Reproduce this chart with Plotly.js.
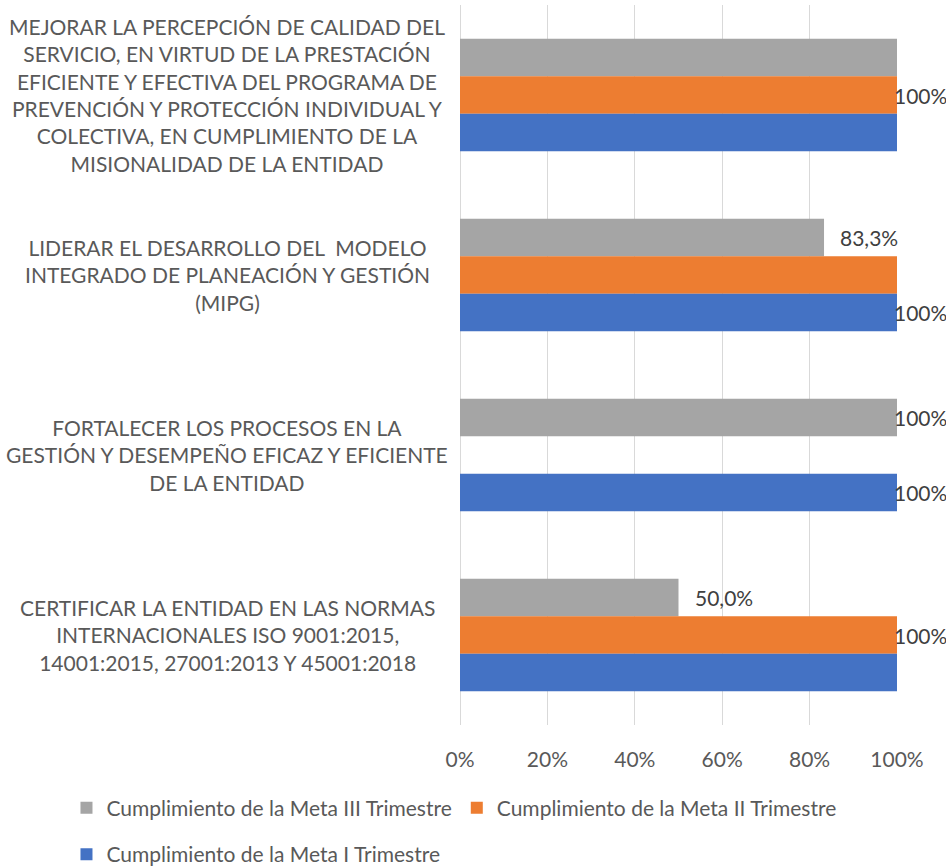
<!DOCTYPE html>
<html>
<head>
<meta charset="utf-8">
<script src="https://cdn.plot.ly/plotly-3.0.1.min.js"></script>
<style>
  html, body { margin: 0; padding: 0; background: #ffffff; }
  #chart { width: 946px; height: 866px; }
</style>
</head>
<body>
<div id="chart"></div>
<script>
// ---- data ----
const categories = [
  "MEJORAR LA PERCEPCIÓN DE CALIDAD DEL<br>SERVICIO, EN VIRTUD DE LA PRESTACIÓN<br>EFICIENTE Y EFECTIVA DEL PROGRAMA DE<br>PREVENCIÓN Y PROTECCIÓN INDIVIDUAL Y<br>COLECTIVA, EN CUMPLIMIENTO DE LA<br>MISIONALIDAD DE LA ENTIDAD",
  "LIDERAR EL DESARROLLO DEL  MODELO<br>INTEGRADO DE PLANEACIÓN Y GESTIÓN<br>(MIPG)",
  "FORTALECER LOS PROCESOS EN LA<br>GESTIÓN Y DESEMPEÑO EFICAZ Y EFICIENTE<br>DE LA ENTIDAD",
  "CERTIFICAR LA ENTIDAD EN LAS NORMAS<br>INTERNACIONALES ISO 9001:2015,<br>14001:2015, 27001:2013 Y 45001:2018"
];
const seriesNames = [
  "Cumplimiento de la Meta III Trimestre",
  "Cumplimiento de la Meta II Trimestre",
  "Cumplimiento de la Meta I Trimestre"
];
const metaIII = [100, 83.3, 100, 50];
const metaII  = [100, 100, null, 100];
const metaI   = [100, 100, 100, 100];
const labelsIII = ["", "83,3%", "100%", "50,0%"];
const labelsII  = ["100%", "", "", "100%"];
const labelsI   = ["", "100%", "100%", ""];
const xTickVals = [0, 20, 40, 60, 80, 100];
const xTickText = ["0%", "20%", "40%", "60%", "80%", "100%"];

// ---- styles ----
const FONT = 'Lato, "Open Sans", "Liberation Sans", sans-serif';
const TXT = '#595959';
const colors = ['#A5A5A5', '#ED7D31', '#4472C4'];
const seriesValues = [metaIII, metaII, metaI];
const seriesLabels = [labelsIII, labelsII, labelsI];
const legendIds = ['legend', 'legend', 'legend2'];
const barShift = [37.5, 0, -37.5]; // pixel offset of each bar within its group (for value labels)

const traces = seriesValues.map((vals, i) => ({
  type: 'bar',
  orientation: 'h',
  name: seriesNames[i],
  x: vals,
  y: categories,
  marker: { color: colors[i], line: { width: 0 } },
  legend: legendIds[i],
  hoverinfo: 'x+name'
}));

const annotations = [];
// category labels (centered, multi-line)
categories.forEach(c => {
  annotations.push({
    xref: 'paper', yref: 'y', x: -0.533, y: c,
    text: c, showarrow: false, xanchor: 'center', yanchor: 'middle', align: 'center',
    font: { family: FONT, size: 21, color: TXT }
  });
});
// value labels
seriesValues.forEach((vals, i) => {
  vals.forEach((v, j) => {
    const t = seriesLabels[i][j];
    if (!t || v === null) return;
    annotations.push({
      xref: 'x', yref: 'y', x: v, y: categories[j],
      text: t, showarrow: false, xanchor: 'left', yanchor: 'middle',
      xshift: v >= 100 ? -5 : 14, yshift: barShift[i],
      font: { family: FONT, size: 21, color: '#404040' }
    });
  });
});

const layout = {
  width: 946, height: 866,
  margin: { l: 460, r: 49, t: 5, b: 141, autoexpand: false },
  paper_bgcolor: '#ffffff', plot_bgcolor: '#ffffff',
  font: { family: FONT, size: 21, color: TXT },
  barmode: 'group', bargap: 0.375, bargroupgap: 0,
  xaxis: {
    range: [0, 100], tickvals: xTickVals, ticktext: xTickText,
    showgrid: true, gridcolor: '#d9d9d9', gridwidth: 1,
    zeroline: true, zerolinecolor: '#d9d9d9', zerolinewidth: 1,
    showline: false, ticks: '', ticklabelstandoff: 20,
    tickfont: { family: FONT, size: 21, color: TXT }, fixedrange: true
  },
  yaxis: {
    type: 'category', autorange: 'reversed', showticklabels: false,
    showgrid: false, zeroline: false, showline: false, ticks: '', fixedrange: true
  },
  showlegend: true,
  legend: {
    orientation: 'h', x: -0.9005, xanchor: 'left', y: -0.087, yanchor: 'top',
    font: { family: FONT, size: 21, color: TXT }, bgcolor: 'rgba(0,0,0,0)', traceorder: 'normal'
  },
  legend2: {
    orientation: 'h', x: -0.9005, xanchor: 'left', y: -0.2085, yanchor: 'bottom',
    font: { family: FONT, size: 21, color: TXT }, bgcolor: 'rgba(0,0,0,0)'
  },
  annotations: annotations
};

Plotly.newPlot('chart', traces, layout, { displayModeBar: false, staticPlot: true });
</script>
</body>
</html>
